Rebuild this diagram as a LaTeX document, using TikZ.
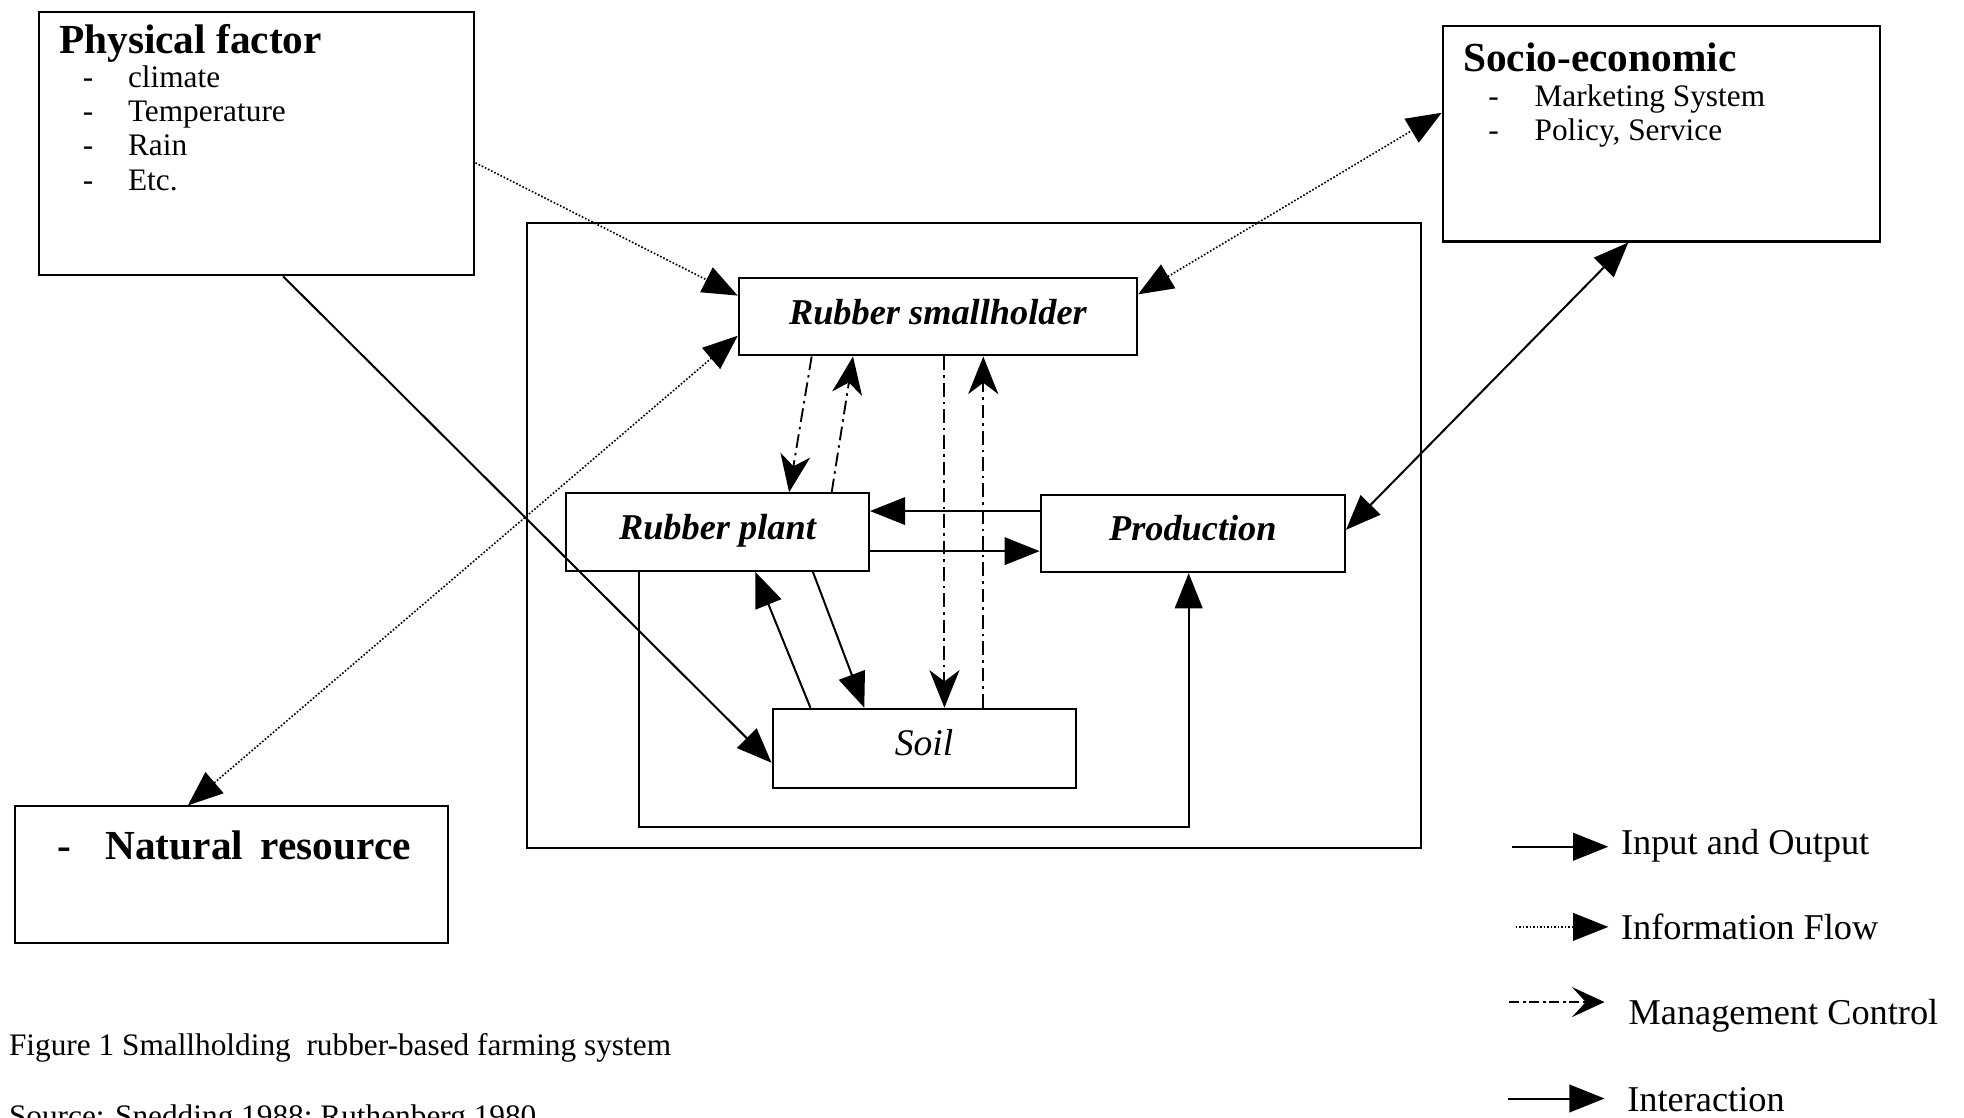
\documentclass[tikz,border=0pt]{standalone}
\usepackage{fontspec}
\setmainfont{Liberation Serif}
\usetikzlibrary{arrows.meta,calc}
\newcommand\hdfont{\fontsize{33}{38}\selectfont\bfseries}
\newcommand\itemfont{\fontsize{25}{29}\selectfont}
\newcommand\bxfont{\fontsize{29}{33}\selectfont\bfseries\itshape}
\newcommand\lgfont{\fontsize{29}{33}\selectfont}
\begin{document}
\begin{tikzpicture}[x=1pt,y=-1pt,
  box/.style={draw,line width=1.6pt,inner sep=0pt,anchor=north west},
  inbox/.style={box,text height=20pt,text depth=8pt},
  lbl/.style={anchor=base west,inner sep=0pt},
  tri/.tip={Triangle[length=28pt,width=22pt]},
  io/.style={line width=1.6pt,-tri},
  iob/.style={line width=1.6pt,tri-tri},
  info/.style={line width=1.3pt,dash pattern=on 1.3pt off 1.5pt,-tri},
  infob/.style={line width=1.3pt,dash pattern=on 1.3pt off 1.5pt,tri-tri},
  mgmt/.style={line width=1.5pt,dash pattern=on 11pt off 4pt on 2pt off 4pt,
     -{Stealth[length=30pt,width=24pt,inset=9pt]}}
]
\useasboundingbox (0,0) rectangle (1568,892);
\clip (0,0) rectangle (1568,892);

% boxes
\node[box,minimum width=348pt,minimum height=210pt] (phys) at (30,9) {};
\node[box,minimum width=349pt,minimum height=172pt] (socio) at (1151,20) {};
\node[box,minimum width=714pt,minimum height=499pt] (outer) at (420,177) {};
\node[inbox,minimum width=318pt,minimum height=62pt] (sh) at (589,221) {\bxfont Rubber smallholder};
\node[inbox,minimum width=242pt,minimum height=62pt] (plant) at (451,393) {\bxfont Rubber plant};
\node[inbox,minimum width=243pt,minimum height=62pt] (prod) at (830,394) {\bxfont Production};
\node[inbox,minimum width=242pt,minimum height=63pt] (soil) at (616,565) {\fontsize{30}{34}\selectfont\itshape Soil};
\node[box,minimum width=346pt,minimum height=109pt] (nat) at (11,643) {};

% texts in boxes
\node[lbl] (physT) at (47,43) {\hdfont Physical factor};
\node[lbl] (p1d) at (66,70) {\itemfont -};
\node[lbl] (p1) at (102,70) {\itemfont climate};
\node[lbl] (p2d) at (66,97) {\itemfont -};
\node[lbl] (p2) at (102,97) {\itemfont Temperature};
\node[lbl] (p3d) at (66,124) {\itemfont -};
\node[lbl] (p3) at (102,124) {\itemfont Rain};
\node[lbl] (p4d) at (66,152) {\itemfont -};
\node[lbl] (p4) at (102,152) {\itemfont Etc.};

\node[lbl] (socT) at (1168,57) {\hdfont Socio-economic};
\node[lbl] (s1d) at (1188,85) {\itemfont -};
\node[lbl] (s1) at (1225,85) {\itemfont Marketing System};
\node[lbl] (s2d) at (1188,112) {\itemfont -};
\node[lbl] (s2) at (1225,112) {\itemfont Policy, Service};

\node[lbl] (natD) at (46,686) {\hdfont -};
\node[lbl] (natT) at (84,686) {\hdfont Natural\hspace{14pt}resource};

% connectors
\draw[io] ($(phys.south west)+(196,0)$) -- ($(soil.north west)+(0,44)$);
\draw[info] ($(phys.north east)+(0,121)$) -- ($(sh.north west)+(0,15)$);
\draw[infob] ($(nat.north west)+(139,0)$) -- ($(sh.north west)+(0,47)$);
\draw[infob] ($(sh.north east)+(0,14)$) -- ($(socio.north west)+(0,70)$);
\draw[iob] ($(prod.north east)+(0,29)$) -- ($(socio.south west)+(149,0)$);

\draw[mgmt] ($(sh.south west)+(59,0)$) -- ($(plant.north west)+(179,0)$);
\draw[mgmt] ($(plant.north west)+(213,0)$) -- ($(sh.south west)+(92,0)$);
\draw[mgmt] ($(sh.south west)+(165,0)$) -- ($(soil.north west)+(138,0)$);
\draw[mgmt] ($(soil.north west)+(169,0)$) -- ($(sh.south west)+(196,0)$);

\draw[io] ($(prod.north west)+(0,14)$) -- ($(plant.north east)+(0,15)$);
\draw[io] ($(plant.north east)+(0,47)$) -- ($(prod.north west)+(0,46)$);
\draw[io] ($(soil.north west)+(31,0)$) -- ($(plant.south west)+(152,0)$);
\draw[io] ($(plant.south west)+(198,0)$) -- ($(soil.north west)+(74,0)$);

\coordinate (loopL) at ($(plant.south west)+(59,204)$);
\draw[io] ($(plant.south west)+(59,0)$) -- (loopL) -| ($(prod.south west)+(119,0)$);

% legend
\coordinate (l1a) at (1207,676); \coordinate (l1b) at (1284,676);
\coordinate (l2a) at (1210,740); \coordinate (l2b) at (1284,740);
\coordinate (l3a) at (1205,800); \coordinate (l3b) at (1281,800);
\coordinate (l4a) at (1204,877); \coordinate (l4b) at (1281,877);
\draw[io] (l1a) -- (l1b);
\draw[info] (l2a) -- (l2b);
\draw[line width=1.5pt,dash pattern=on 8pt off 3pt on 2pt off 3pt,
     -{Stealth[length=26pt,width=24pt,inset=11pt]}] (l3a) -- (l3b);
\draw[io] (l4a) -- (l4b);
\node[lbl] (t1) at (1294,682) {\lgfont Input and Output};
\node[lbl] (t2) at (1294,750) {\lgfont Information Flow};
\node[lbl] (t3) at (1300,818) {\lgfont Management Control};
\node[lbl] (t4) at (1299,887) {\lgfont Interaction};

% caption
\node[lbl] (cap) at (7,843) {\itemfont Figure 1 Smallholding\ \ rubber-based farming system};
\node[lbl] (src) at (7,899) {\itemfont Source: Snedding 1988; Ruthenberg 1980};
\end{tikzpicture}
\end{document}
